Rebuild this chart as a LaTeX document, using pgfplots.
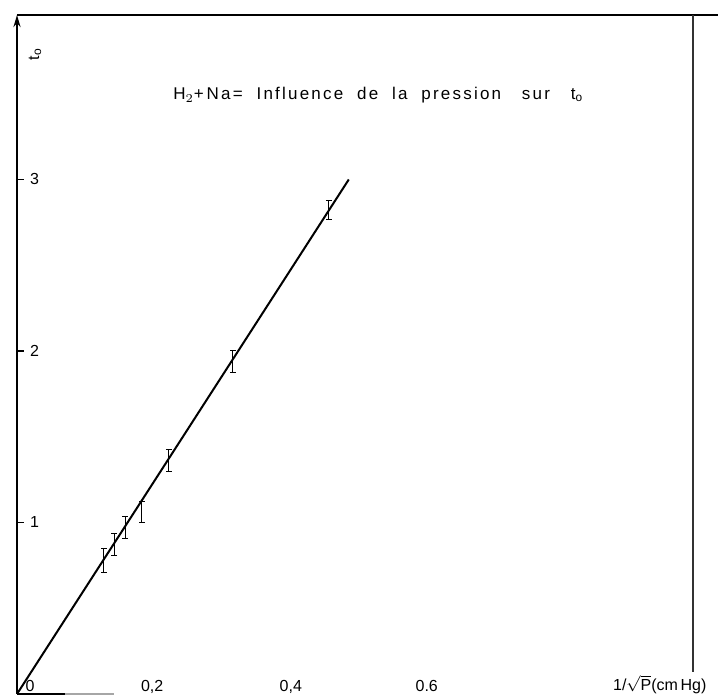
\documentclass[border=0pt]{standalone}
\usepackage{pgfplots}
\pgfplotsset{compat=1.18}
\usepackage{fontspec}
\setmainfont{Liberation Sans}
\usetikzlibrary{arrows.meta}
\pgfplotstableread{
x y e
0.126 0.78 0.070
0.141 0.87 0.065
0.157 0.97 0.065
0.181 1.06 0.060
0.220 1.36 0.065
0.313 1.94 0.065
0.452 2.82 0.055
}\pts
\begin{document}
\begin{tikzpicture}
\begin{axis}[
  width=338pt, height=339.5pt, scale only axis,
  xmin=0, xmax=0.98, ymin=0, ymax=3.959,
  clip=false,
  axis line style={draw=none},
  /pgf/number format/assume math mode=true,
  font=\fontsize{8}{9.5}\selectfont,
  ytick={1,2,3}, yticklabels={1,2,3},
  ytick pos=left, tick align=inside,
  major tick length=3.5pt,
  ytick style={black, line width=0.6pt},
  yticklabel style={anchor=west, xshift=3pt},
  xtick={0.019,0.196,0.397,0.594},
  xticklabels={0,{0,2},{0,4},0.6},
  xtick pos=bottom, xtick style={draw=none},
  xticklabel style={anchor=base, yshift=1pt},
]
\path (axis cs:0,0) ++(-8.5pt,-1pt) coordinate (bbA);
% fitted line
\addplot[black, line width=1pt] coordinates {(0,0) (0.481,3.00)};
% measured points with error bars
\addplot[draw=none, mark=none, forget plot,
  error bars/.cd, y dir=both, y explicit,
  error mark=|,
  error bar style={draw=black, solid, line width=0.5pt},
  error mark options={draw=black, solid, mark size=1.4pt, line width=0.5pt}]
  table[x=x, y=y, y error=e] {\pts};
% frame
\draw[line width=1pt, -{Stealth[length=6pt,width=3.5pt]}] (axis cs:0,0) -- (axis cs:0,3.959);
\draw[line width=1pt] (axis cs:0,3.959) -- (axis cs:1.016,3.959);
\draw[line width=0.6pt, black!80] (axis cs:0.98,3.959) -- (axis cs:0.98,0.128);
\draw[line width=1pt] (axis cs:0,0) -- (axis cs:0.07,0);
\draw[line width=0.6pt, black!35] (axis cs:0.07,0) -- (axis cs:0.14,0);
% labels
\node[rotate=90, anchor=center] at (axis cs:0.026,3.73) {t$_{\mathrm{o}}$};
\node[anchor=base east, inner sep=0pt] at (axis cs:1.0,0.023) {1/$\sqrt{\mbox{P}}$(cm\,Hg)};
\node[anchor=west, inner sep=0pt, font=\fontsize{8.5}{10}\selectfont\addfontfeatures{LetterSpace=13}] at (axis cs:0.226,3.49)
  {H$_2$+\,Na=\ \ Influence\ \ de\ \ la\ \ pression\ \ \ sur\ \ \ t$_{\mathrm{o}}$};
\end{axis}
\pgfresetboundingbox
\path (bbA) rectangle ++(359pt,348pt);
\end{tikzpicture}
\end{document}
